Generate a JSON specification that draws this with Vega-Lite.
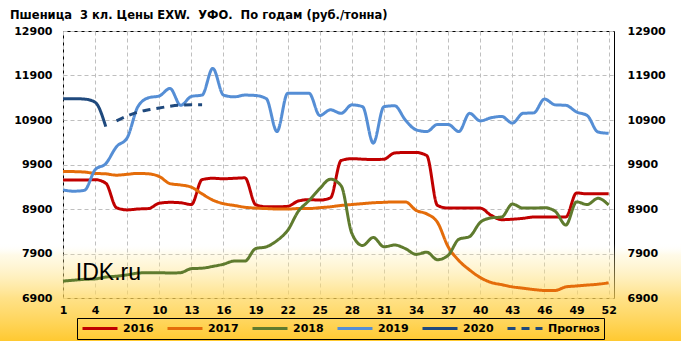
{
  "$schema": "https://vega.github.io/schema/vega-lite/v6.json",
  "width": 551,
  "height": 267,
  "autosize": {"type": "none"},
  "padding": {"left": 63, "top": 31, "right": 67, "bottom": 43},
  "background": "#ffffff",
  "title": {
    "text": "Пшеница\u00a0 3 кл. Цены EXW.\u00a0 УФО.\u00a0 По годам (руб./тонна)",
    "anchor": "start",
    "frame": "group",
    "font": "DejaVu Sans",
    "fontSize": 11.5,
    "fontWeight": "bold",
    "color": "#000000",
    "dx": -53,
    "offset": 4
  },
  "config": {
    "view": {"stroke": "#000000", "strokeWidth": 1},
    "font": "DejaVu Sans",
    "axis": {
      "labelFont": "DejaVu Sans",
      "labelFontWeight": "bold",
      "labelFontSize": 11,
      "labelColor": "#000000",
      "title": null,
      "ticks": false,
      "domain": false,
      "gridColor": "#BFBFBF",
      "gridDash": [4, 3],
      "gridWidth": 1,
      "labelOverlap": false,
      "labelFlush": false
    },
    "legend": {
      "strokeColor": "#000000",
      "strokeWidth": 1,
      "fillColor": "rgba(255,255,255,0)",
      "padding": 4,
      "symbolType": "stroke",
      "symbolSize": 1225,
      "symbolStrokeWidth": 3,
      "clipHeight": 13,
      "labelFont": "DejaVu Sans",
      "labelFontWeight": "bold",
      "labelFontSize": 11,
      "labelColor": "#000000",
      "labelOffset": 4,
      "columnPadding": 12
    }
  },
  "data": {
    "values": [
      {"series": "2016", "week": 1, "value": 9550}, {"series": "2016", "week": 2, "value": 9550}, {"series": "2016", "week": 3, "value": 9550}, {"series": "2016", "week": 4, "value": 9560}, {"series": "2016", "week": 5, "value": 9480}, {"series": "2016", "week": 6, "value": 8930}, {"series": "2016", "week": 7, "value": 8880}, {"series": "2016", "week": 8, "value": 8900}, {"series": "2016", "week": 9, "value": 8910}, {"series": "2016", "week": 10, "value": 9030}, {"series": "2016", "week": 11, "value": 9050}, {"series": "2016", "week": 12, "value": 9040}, {"series": "2016", "week": 13, "value": 9000}, {"series": "2016", "week": 14, "value": 9560}, {"series": "2016", "week": 15, "value": 9590}, {"series": "2016", "week": 16, "value": 9580}, {"series": "2016", "week": 17, "value": 9590}, {"series": "2016", "week": 18, "value": 9600}, {"series": "2016", "week": 19, "value": 9000}, {"series": "2016", "week": 20, "value": 8950}, {"series": "2016", "week": 21, "value": 8950}, {"series": "2016", "week": 22, "value": 8960}, {"series": "2016", "week": 23, "value": 9080}, {"series": "2016", "week": 24, "value": 9110}, {"series": "2016", "week": 25, "value": 9100}, {"series": "2016", "week": 26, "value": 9150}, {"series": "2016", "week": 27, "value": 9990}, {"series": "2016", "week": 28, "value": 10030}, {"series": "2016", "week": 29, "value": 10020}, {"series": "2016", "week": 30, "value": 10010}, {"series": "2016", "week": 31, "value": 10020}, {"series": "2016", "week": 32, "value": 10160}, {"series": "2016", "week": 33, "value": 10170}, {"series": "2016", "week": 34, "value": 10170}, {"series": "2016", "week": 35, "value": 10100}, {"series": "2016", "week": 36, "value": 8980}, {"series": "2016", "week": 37, "value": 8920}, {"series": "2016", "week": 38, "value": 8920}, {"series": "2016", "week": 39, "value": 8920}, {"series": "2016", "week": 40, "value": 8920}, {"series": "2016", "week": 41, "value": 8760}, {"series": "2016", "week": 42, "value": 8660}, {"series": "2016", "week": 43, "value": 8670}, {"series": "2016", "week": 44, "value": 8690}, {"series": "2016", "week": 45, "value": 8720}, {"series": "2016", "week": 46, "value": 8720}, {"series": "2016", "week": 47, "value": 8720}, {"series": "2016", "week": 48, "value": 8720}, {"series": "2016", "week": 49, "value": 9260}, {"series": "2016", "week": 50, "value": 9240}, {"series": "2016", "week": 51, "value": 9240}, {"series": "2016", "week": 52, "value": 9240},
      {"series": "2017", "week": 1, "value": 9740}, {"series": "2017", "week": 2, "value": 9740}, {"series": "2017", "week": 3, "value": 9730}, {"series": "2017", "week": 4, "value": 9700}, {"series": "2017", "week": 5, "value": 9690}, {"series": "2017", "week": 6, "value": 9660}, {"series": "2017", "week": 7, "value": 9680}, {"series": "2017", "week": 8, "value": 9700}, {"series": "2017", "week": 9, "value": 9690}, {"series": "2017", "week": 10, "value": 9630}, {"series": "2017", "week": 11, "value": 9470}, {"series": "2017", "week": 12, "value": 9440}, {"series": "2017", "week": 13, "value": 9390}, {"series": "2017", "week": 14, "value": 9240}, {"series": "2017", "week": 15, "value": 9100}, {"series": "2017", "week": 16, "value": 9020}, {"series": "2017", "week": 17, "value": 8980}, {"series": "2017", "week": 18, "value": 8940}, {"series": "2017", "week": 19, "value": 8920}, {"series": "2017", "week": 20, "value": 8910}, {"series": "2017", "week": 21, "value": 8900}, {"series": "2017", "week": 22, "value": 8900}, {"series": "2017", "week": 23, "value": 8910}, {"series": "2017", "week": 24, "value": 8910}, {"series": "2017", "week": 25, "value": 8930}, {"series": "2017", "week": 26, "value": 8950}, {"series": "2017", "week": 27, "value": 8980}, {"series": "2017", "week": 28, "value": 9000}, {"series": "2017", "week": 29, "value": 9020}, {"series": "2017", "week": 30, "value": 9040}, {"series": "2017", "week": 31, "value": 9050}, {"series": "2017", "week": 32, "value": 9060}, {"series": "2017", "week": 33, "value": 9060}, {"series": "2017", "week": 34, "value": 8870}, {"series": "2017", "week": 35, "value": 8790}, {"series": "2017", "week": 36, "value": 8600}, {"series": "2017", "week": 37, "value": 8050}, {"series": "2017", "week": 38, "value": 7740}, {"series": "2017", "week": 39, "value": 7530}, {"series": "2017", "week": 40, "value": 7360}, {"series": "2017", "week": 41, "value": 7250}, {"series": "2017", "week": 42, "value": 7200}, {"series": "2017", "week": 43, "value": 7150}, {"series": "2017", "week": 44, "value": 7120}, {"series": "2017", "week": 45, "value": 7090}, {"series": "2017", "week": 46, "value": 7070}, {"series": "2017", "week": 47, "value": 7070}, {"series": "2017", "week": 48, "value": 7150}, {"series": "2017", "week": 49, "value": 7170}, {"series": "2017", "week": 50, "value": 7190}, {"series": "2017", "week": 51, "value": 7210}, {"series": "2017", "week": 52, "value": 7240},
      {"series": "2018", "week": 1, "value": 7280}, {"series": "2018", "week": 2, "value": 7300}, {"series": "2018", "week": 3, "value": 7320}, {"series": "2018", "week": 4, "value": 7330}, {"series": "2018", "week": 5, "value": 7370}, {"series": "2018", "week": 6, "value": 7390}, {"series": "2018", "week": 7, "value": 7420}, {"series": "2018", "week": 8, "value": 7460}, {"series": "2018", "week": 9, "value": 7470}, {"series": "2018", "week": 10, "value": 7470}, {"series": "2018", "week": 11, "value": 7460}, {"series": "2018", "week": 12, "value": 7470}, {"series": "2018", "week": 13, "value": 7560}, {"series": "2018", "week": 14, "value": 7570}, {"series": "2018", "week": 15, "value": 7610}, {"series": "2018", "week": 16, "value": 7660}, {"series": "2018", "week": 17, "value": 7730}, {"series": "2018", "week": 18, "value": 7730}, {"series": "2018", "week": 19, "value": 8010}, {"series": "2018", "week": 20, "value": 8050}, {"series": "2018", "week": 21, "value": 8190}, {"series": "2018", "week": 22, "value": 8420}, {"series": "2018", "week": 23, "value": 8850}, {"series": "2018", "week": 24, "value": 9090}, {"series": "2018", "week": 25, "value": 9360}, {"series": "2018", "week": 26, "value": 9570}, {"series": "2018", "week": 27, "value": 9420}, {"series": "2018", "week": 28, "value": 8350}, {"series": "2018", "week": 29, "value": 8080}, {"series": "2018", "week": 30, "value": 8260}, {"series": "2018", "week": 31, "value": 8050}, {"series": "2018", "week": 32, "value": 8090}, {"series": "2018", "week": 33, "value": 8010}, {"series": "2018", "week": 34, "value": 7880}, {"series": "2018", "week": 35, "value": 7930}, {"series": "2018", "week": 36, "value": 7760}, {"series": "2018", "week": 37, "value": 7860}, {"series": "2018", "week": 38, "value": 8220}, {"series": "2018", "week": 39, "value": 8280}, {"series": "2018", "week": 40, "value": 8600}, {"series": "2018", "week": 41, "value": 8700}, {"series": "2018", "week": 42, "value": 8720}, {"series": "2018", "week": 43, "value": 9010}, {"series": "2018", "week": 44, "value": 8920}, {"series": "2018", "week": 45, "value": 8920}, {"series": "2018", "week": 46, "value": 8930}, {"series": "2018", "week": 47, "value": 8850}, {"series": "2018", "week": 48, "value": 8540}, {"series": "2018", "week": 49, "value": 9060}, {"series": "2018", "week": 50, "value": 9000}, {"series": "2018", "week": 51, "value": 9140}, {"series": "2018", "week": 52, "value": 8990},
      {"series": "2019", "week": 1, "value": 9330}, {"series": "2019", "week": 2, "value": 9300}, {"series": "2019", "week": 3, "value": 9320}, {"series": "2019", "week": 4, "value": 9780}, {"series": "2019", "week": 5, "value": 9920}, {"series": "2019", "week": 6, "value": 10300}, {"series": "2019", "week": 7, "value": 10500}, {"series": "2019", "week": 8, "value": 11200}, {"series": "2019", "week": 9, "value": 11400}, {"series": "2019", "week": 10, "value": 11440}, {"series": "2019", "week": 11, "value": 11610}, {"series": "2019", "week": 12, "value": 11230}, {"series": "2019", "week": 13, "value": 11430}, {"series": "2019", "week": 14, "value": 11460}, {"series": "2019", "week": 15, "value": 12060}, {"series": "2019", "week": 16, "value": 11460}, {"series": "2019", "week": 17, "value": 11420}, {"series": "2019", "week": 18, "value": 11460}, {"series": "2019", "week": 19, "value": 11450}, {"series": "2019", "week": 20, "value": 11380}, {"series": "2019", "week": 21, "value": 10640}, {"series": "2019", "week": 22, "value": 11500}, {"series": "2019", "week": 23, "value": 11500}, {"series": "2019", "week": 24, "value": 11500}, {"series": "2019", "week": 25, "value": 11000}, {"series": "2019", "week": 26, "value": 11130}, {"series": "2019", "week": 27, "value": 11050}, {"series": "2019", "week": 28, "value": 11240}, {"series": "2019", "week": 29, "value": 11200}, {"series": "2019", "week": 30, "value": 10380}, {"series": "2019", "week": 31, "value": 11200}, {"series": "2019", "week": 32, "value": 11220}, {"series": "2019", "week": 33, "value": 10900}, {"series": "2019", "week": 34, "value": 10680}, {"series": "2019", "week": 35, "value": 10640}, {"series": "2019", "week": 36, "value": 10800}, {"series": "2019", "week": 37, "value": 10800}, {"series": "2019", "week": 38, "value": 10640}, {"series": "2019", "week": 39, "value": 11050}, {"series": "2019", "week": 40, "value": 10880}, {"series": "2019", "week": 41, "value": 10950}, {"series": "2019", "week": 42, "value": 10980}, {"series": "2019", "week": 43, "value": 10830}, {"series": "2019", "week": 44, "value": 11050}, {"series": "2019", "week": 45, "value": 11060}, {"series": "2019", "week": 46, "value": 11370}, {"series": "2019", "week": 47, "value": 11240}, {"series": "2019", "week": 48, "value": 11230}, {"series": "2019", "week": 49, "value": 11080}, {"series": "2019", "week": 50, "value": 11000}, {"series": "2019", "week": 51, "value": 10630}, {"series": "2019", "week": 52, "value": 10600},
      {"series": "2020", "week": 1, "value": 11380}, {"series": "2020", "week": 2, "value": 11380}, {"series": "2020", "week": 3, "value": 11370}, {"series": "2020", "week": 4, "value": 11300}, {"series": "2020", "week": 5, "value": 10750},
      {"series": "Прогноз", "week": 6, "value": 10880}, {"series": "Прогноз", "week": 7, "value": 10990}, {"series": "Прогноз", "week": 8, "value": 11080}, {"series": "Прогноз", "week": 9, "value": 11130}, {"series": "Прогноз", "week": 10, "value": 11170}, {"series": "Прогноз", "week": 11, "value": 11210}, {"series": "Прогноз", "week": 12, "value": 11235}, {"series": "Прогноз", "week": 13, "value": 11240}, {"series": "Прогноз", "week": 14, "value": 11240}
    ]
  },
  "layer": [
    {
      "data": {"values": [{"band": "bg"}]},
      "mark": {
        "type": "rect",
        "clip": false,
        "fill": {
          "gradient": "linear",
          "x1": 0, "y1": 0, "x2": 0, "y2": 1,
          "stops": [
            {"offset": 0, "color": "rgba(255,255,255,0)"},
            {"offset": 0.12, "color": "rgba(255,236,160,0.25)"},
            {"offset": 0.55, "color": "rgba(255,214,90,0.72)"},
            {"offset": 1, "color": "rgba(255,200,45,1)"}
          ]
        }
      },
      "encoding": {
        "x": {"datum": -6, "type": "quantitative", "scale": {"domain": [1, 52.5], "nice": false, "zero": false}, "axis": null},
        "x2": {"datum": 60},
        "y": {"datum": 8130, "type": "quantitative", "scale": {"domain": [6900, 12900], "nice": false, "zero": false}, "axis": null},
        "y2": {"datum": 5900}
      }
    },
    {
      "mark": {"type": "line", "interpolate": "monotone", "strokeWidth": 3},
      "encoding": {
        "x": {"field": "week", "type": "quantitative", "scale": {"domain": [1, 52.5], "nice": false, "zero": false},
              "axis": {"orient": "bottom", "grid": true, "labels": false, "zindex": 0, "values": [1,4,7,10,13,16,19,22,25,28,31,34,37,40,43,46,49,52]}},
        "y": {"field": "value", "type": "quantitative", "scale": {"domain": [6900, 12900], "nice": false, "zero": false},
              "axis": {"orient": "left", "grid": true, "labels": false, "zindex": 0, "values": [6900,7900,8900,9900,10900,11900,12900]}},
        "color": {
          "field": "series", "type": "nominal",
          "scale": {"domain": ["2016","2017","2018","2019","2020","Прогноз"], "range": ["#C00000","#E46C0A","#5F7B2E","#558ED5","#1F497D","#1F497D"]},
          "legend": {"title": null, "orient": "none", "legendX": 14, "legendY": 287, "direction": "horizontal", "columns": 6,
                     "strokeColor": "#000000",
                     "encode": {"symbols": {"update": {"strokeDash": {"signal": "datum.value === 'Прогноз' ? [8, 6] : [1, 0]"}}}}}
        },
        "strokeDash": {
          "field": "series", "type": "nominal",
          "scale": {"domain": ["2016","2017","2018","2019","2020","Прогноз"], "range": [[1,0],[1,0],[1,0],[1,0],[1,0],[8,6]]},
          "legend": null
        }
      }
    },
    {
      "mark": {"type": "point", "opacity": 0},
      "encoding": {
        "x": {"field": "week", "type": "quantitative", "scale": {"domain": [1, 52.5], "nice": false, "zero": false},
              "axis": {"orient": "bottom", "grid": false, "zindex": 1, "labelPadding": 6, "format": "d", "values": [1,4,7,10,13,16,19,22,25,28,31,34,37,40,43,46,49,52]}},
        "y": {"field": "value", "type": "quantitative", "scale": {"domain": [6900, 12900], "nice": false, "zero": false},
              "axis": {"orient": "left", "grid": false, "zindex": 1, "labelPadding": 11, "format": "d", "values": [6900,7900,8900,9900,10900,11900,12900]}}
      }
    },
    {
      "mark": {"type": "point", "opacity": 0},
      "encoding": {
        "x": {"field": "week", "type": "quantitative", "scale": {"domain": [1, 52.5], "nice": false, "zero": false}, "axis": null},
        "y": {"field": "value", "type": "quantitative", "scale": {"domain": [6900, 12900], "nice": false, "zero": false},
              "axis": {"orient": "right", "grid": false, "zindex": 1, "labelPadding": 13, "format": "d", "values": [6900,7900,8900,9900,10900,11900,12900]}}
      }
    },
    {
      "data": {"values": [{"label": "IDK.ru"}]},
      "mark": {"type": "text", "font": "Liberation Sans", "fontSize": 23, "align": "left", "baseline": "alphabetic", "color": "#000000"},
      "encoding": {
        "text": {"field": "label"},
        "x": {"datum": 2.2, "type": "quantitative", "scale": {"domain": [1, 52.5], "nice": false, "zero": false}, "axis": null},
        "y": {"datum": 7300, "type": "quantitative", "scale": {"domain": [6900, 12900], "nice": false, "zero": false}, "axis": null}
      }
    }
  ],
  "resolve": {"axis": {"x": "independent", "y": "independent"}}
}
